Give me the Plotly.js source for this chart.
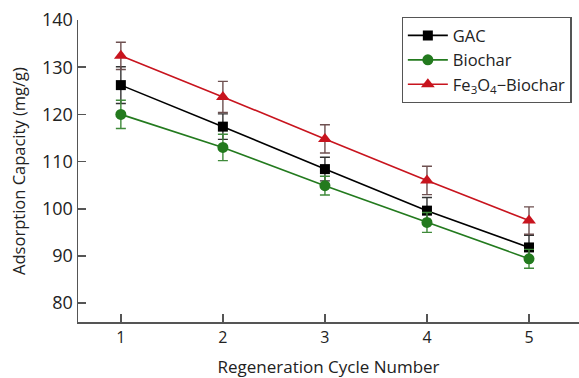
<!DOCTYPE html>
<html>
<head>
<meta charset="utf-8">
<script src="https://cdn.plot.ly/plotly-3.0.1.min.js"></script>
<style>html,body{margin:0;padding:0;background:#fff;}#chart{width:579px;height:378px;}</style>
</head>
<body>
<div id="chart"></div>
<script>
var cycles = [1, 2, 3, 4, 5];
var gac = [126.2, 117.4, 108.4, 99.6, 91.8];
var gacErr = [3.9, 2.7, 2.5, 2.8, 2.6];
var biochar = [120.0, 113.0, 104.9, 97.1, 89.4];
var biocharErr = [3.0, 2.8, 2.0, 2.1, 2.0];
var fe3o4 = [132.4, 123.7, 114.8, 106.0, 97.5];
var fe3o4Err = [2.9, 3.3, 3.0, 3.0, 2.9];
var yTicks = [80, 90, 100, 110, 120, 130, 140];

var fontFam = '"Open Sans", "Noto Sans", sans-serif';

function series(name, y, err, color, errColor, symbol, size) {
  return {
    x: cycles, y: y, name: name, type: 'scatter', mode: 'lines+markers',
    line: {color: color, width: 1.6},
    marker: {color: color, symbol: symbol, size: size},
    error_y: {type: 'data', array: err, visible: true, color: errColor, thickness: 1.4, width: 5}
  };
}

var data = [
  series('GAC', gac, gacErr, '#000000', '#333333', 'square', 10),
  series('Biochar', biochar, biocharErr, '#237a1e', '#3f8a3a', 'circle', 11),
  series('Fe<sub>3</sub>O<sub>4</sub>−Biochar', fe3o4, fe3o4Err, '#c8141e', '#6e5050', 'triangle-up', 12)
];

var layout = {
  width: 579, height: 378,
  margin: {l: 78, r: 0, t: 20, b: 56},
  paper_bgcolor: '#ffffff', plot_bgcolor: '#ffffff',
  font: {family: fontFam, color: '#222222', size: 16},
  showlegend: true,
  legend: {
    x: 0.646, y: 1.01, xanchor: 'left', yanchor: 'top',
    bordercolor: '#555555', borderwidth: 1.2, bgcolor: '#ffffff',
    font: {family: fontFam, size: 16.5, color: '#222222'},
    tracegroupgap: 0, itemwidth: 40
  },
  xaxis: {
    range: [0.58, 5.49], tickvals: cycles, ticktext: cycles.map(String),
    ticks: 'inside', ticklen: 8, tickwidth: 1.5, tickcolor: '#555555',
    showline: true, linecolor: '#555555', linewidth: 1.5,
    showgrid: false, zeroline: false,
    tickfont: {family: fontFam, size: 16, color: '#222222'},
    title: {text: 'Regeneration Cycle Number', font: {family: fontFam, size: 17, color: '#222222'}, standoff: 22}
  },
  yaxis: {
    range: [76, 140], tickvals: yTicks, ticktext: yTicks.map(String),
    ticks: 'inside', ticklen: 8, tickwidth: 1.5, tickcolor: '#555555',
    showline: true, linecolor: '#555555', linewidth: 1.5,
    showgrid: false, zeroline: false,
    tickfont: {family: fontFam, size: 18, color: '#222222'},
    title: {text: 'Adsorption Capacity (mg/g)', font: {family: fontFam, size: 16.5, color: '#222222'}, standoff: 12}
  }
};

Plotly.newPlot('chart', data, layout, {displayModeBar: false, staticPlot: true});
</script>
</body>
</html>
